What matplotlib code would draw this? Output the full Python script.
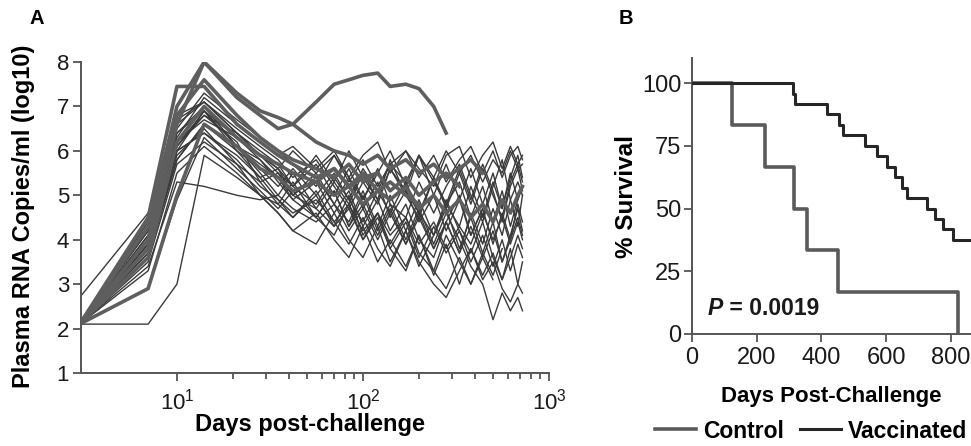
import numpy as np
import matplotlib
matplotlib.use("Agg")
import matplotlib.pyplot as plt
from matplotlib.lines import Line2D

plt.rcParams['font.family'] = ['Liberation Sans', 'DejaVu Sans']
plt.rcParams['mathtext.fontset'] = 'custom'
plt.rcParams['mathtext.rm'] = 'Liberation Sans'
plt.rcParams['mathtext.default'] = 'regular'

# ---- panel A: viral load (log10 copies/ml) per animal ----
days = [3, 7, 10, 14, 21, 28, 35, 42, 56, 70, 84, 100, 120, 140, 170, 200,
        240, 280, 330, 380, 440, 500, 560, 620, 680, 720]
nan = np.nan

vaccinated_vl = [
    [2.1, 4.2, 6.3, 7.2, 6.6, 6.2, 5.9, 6.1, 5.6, 6.0, 5.4, 5.9, 6.2, 5.5, 6.0, 5.6, 5.2, 5.9, 6.1, 5.4, 5.9, 6.2, 5.6, 6.1, 5.7, 5.9],
    [2.1, 3.9, 6.0, 6.9, 6.3, 5.8, 5.3, 4.9, 4.5, 5.1, 4.3, 4.8, 4.1, 4.7, 3.9, 4.6, 3.8, 4.4, 5.0, 4.1, 4.7, 3.9, 4.6, 4.0, 4.8, 4.4],
    [2.1, 4.0, 6.4, 7.0, 6.1, 5.5, 5.0, 5.5, 4.7, 4.3, 5.0, 4.1, 4.6, 3.9, 4.5, 3.7, 3.3, 4.1, 3.5, 3.0, 3.6, 3.1, nan, nan, nan, nan],
    [2.1, 3.6, 5.8, 6.6, 6.0, 5.4, 4.9, 4.5, 5.1, 4.4, 3.9, 4.5, 3.8, 3.4, 4.2, 3.5, 3.0, 2.7, 3.3, 3.8, 3.1, 3.5, 2.9, 2.6, 3.0, 2.8],
    [2.1, 4.3, 6.6, 7.1, 6.4, 6.0, 5.7, 5.2, 5.9, 5.3, 6.0, 5.4, 4.9, 5.8, 5.0, 5.9, 5.3, 4.8, 5.6, 4.9, 5.7, 5.1, 4.4, 5.2, 5.6, 5.1],
    [2.1, 3.8, 6.1, 6.8, 6.2, 5.3, 4.8, 5.3, 4.5, 5.1, 4.3, 5.0, 4.2, 4.8, 4.0, 4.7, 3.9, 4.6, 4.0, 3.4, 3.0, 2.2, 2.8, 2.4, 2.7, 2.4],
    [2.1, 4.1, 6.5, 7.3, 6.7, 6.3, 6.0, 5.7, 5.2, 5.9, 5.4, 4.9, 5.6, 4.8, 4.5, 5.3, 4.6, 5.2, 5.7, 5.0, 4.4, 5.2, 5.8, 4.9, 4.3, 5.0],
    [2.1, 3.7, 5.9, 6.5, 5.7, 5.0, 4.6, 4.2, 3.9, 4.6, 4.0, 3.6, 4.3, 3.5, 4.2, 3.4, 4.1, 4.7, 3.8, 4.5, 3.7, 4.4, 3.5, 4.1, 4.7, 4.2],
    [2.7, 4.6, 6.7, 7.1, 6.5, 6.1, 5.8, 5.4, 5.8, 5.2, 4.7, 5.3, 4.8, 5.6, 5.0, 4.5, 5.4, 4.7, 5.5, 4.8, 5.6, 5.0, 4.5, 5.3, 5.7, 5.3],
    [2.1, 2.1, 3.0, 5.9, 5.4, 5.0, 4.8, 4.5, 5.0, 4.3, 4.7, 4.0, 4.6, 3.8, 4.4, 3.6, 4.3, 3.7, 4.2, 3.5, 4.1, 3.4, 4.0, 3.3, 3.9, 3.6],
    [2.1, 2.9, 4.9, 6.3, 5.6, 5.1, 4.7, 5.1, 4.5, 4.1, 4.8, 4.0, 4.5, 3.8, 3.3, 4.1, 3.2, 3.9, 3.0, 3.8, 3.2, 3.7, 3.1, 3.6, 4.1, 3.8],
    [2.1, 3.4, 5.3, 5.2, 5.0, 4.9, 5.0, 4.7, 4.4, 4.8, 4.2, 4.7, 4.0, 4.6, 3.9, 4.5, 3.8, 4.4, 3.7, 4.3, 3.6, 4.2, 3.5, 4.0, 4.5, 4.1],
    [2.1, 4.0, 6.2, 6.7, 6.3, 5.9, 5.6, 6.0, 5.5, 5.9, 5.3, 5.8, 5.2, 5.7, 6.0, 5.4, 5.9, 5.3, 5.8, 6.1, 5.5, 6.0, 5.4, 5.9, 6.1, 5.8],
    [2.1, 3.9, 6.0, 6.4, 5.9, 5.4, 5.6, 5.0, 5.5, 4.8, 5.4, 4.7, 5.3, 4.5, 5.1, 4.4, 5.0, 4.2, 4.9, 4.1, 4.7, nan, nan, nan, nan, nan],
    [2.1, 4.2, 6.4, 6.9, 6.1, 5.8, 5.4, 4.9, 5.3, 4.6, 5.1, 4.3, 4.9, 4.2, 4.8, 4.0, 3.6, 4.4, 3.7, 4.6, 3.9, 4.7, 4.1, 4.9, 5.3, 5.0],
    [2.1, 3.5, 5.7, 6.2, 5.7, 5.3, 5.5, 5.0, 5.4, 4.8, 4.4, 5.1, 4.3, 5.0, 4.2, 4.9, 4.1, 4.8, 5.3, 4.5, 5.2, 4.4, 5.1, 4.3, 4.9, 5.2],
    [2.1, 4.4, 6.8, 7.1, 6.4, 5.9, 5.6, 5.2, 5.7, 5.0, 5.6, 4.9, 5.5, 6.0, 5.2, 5.9, 5.0, 5.7, 4.9, 5.6, 4.8, 5.5, 4.7, 5.4, 5.9, 5.4],
    [2.1, 3.3, 5.5, 6.1, 5.5, 5.0, 4.6, 4.2, 4.6, 4.0, 3.6, 4.3, 3.5, 4.0, 3.4, 4.1, 3.3, 2.9, 3.6, 3.0, 3.7, 3.2, 3.8, nan, nan, nan],
    [2.1, 3.7, 5.8, 6.6, 6.1, 5.7, 5.4, 5.0, 4.7, 5.3, 4.8, 5.5, 4.9, 5.6, 5.1, 4.6, 5.4, 4.8, 4.3, 5.2, 4.5, 5.3, 4.7, 5.5, 4.9, 5.2],
    [2.1, 4.1, 6.2, 6.8, 6.4, 5.9, 5.5, 5.2, 4.8, 5.4, 4.9, 4.4, 5.1, 4.6, 5.3, 4.6, 4.1, 4.9, 4.2, 3.7, 4.4, 3.6, 3.1, 3.8, 3.0, 3.5],
    [2.1, 3.9, 6.1, 6.9, 6.0, 5.6, 5.2, 5.6, 5.0, 5.5, 4.9, 5.6, 5.1, 5.7, 5.3, 5.9, 5.4, 6.0, 5.5, 5.9, 5.3, 5.8, 5.5, 6.0, 5.6, 5.7],
    [2.1, 3.6, 6.0, 6.4, 5.8, 5.2, 4.9, 4.6, 4.9, 4.4, 4.8, 4.2, 4.6, 4.1, 4.5, 3.9, 4.4, 3.8, 4.3, 3.9, 4.6, 4.0, 4.5, 3.9, 4.4, 4.0],
]

control_vl = [
    [2.1, 3.8, 6.6, 8.0, 7.2, 6.8, 6.5, 6.6, 7.1, 7.5, 7.6, 7.7, 7.75, 7.45, 7.5, 7.4, 7.0, 6.4, nan, nan, nan, nan, nan, nan, nan, nan],
    [2.1, 4.3, 7.0, 8.0, 7.3, 6.9, 6.75, 6.6, 6.2, 6.0, 5.9, 5.7, 5.9, 5.6, 5.8, 5.5, 5.7, 5.4, 5.6, 5.8, 5.5, nan, nan, nan, nan, nan],
    [2.1, 4.0, 6.8, 7.6, 6.8, 6.3, 6.0, 5.8, 5.6, 5.4, 5.7, 5.3, 5.5, 5.1, 5.4, 5.0, 5.3, 5.5, 5.2, nan, nan, nan, nan, nan, nan, nan],
    [2.1, 4.5, 7.45, 7.45, 6.6, 6.2, 5.9, 5.7, 5.4, 5.6, 5.2, 5.5, 5.1, 5.3, 5.0, 4.8, nan, nan, nan, nan, nan, nan, nan, nan, nan, nan],
    [2.1, 3.6, 6.2, 7.0, 6.3, 5.9, 5.7, 5.5, 5.3, 5.6, 5.2, 5.4, 5.5, nan, nan, nan, nan, nan, nan, nan, nan, nan, nan, nan, nan, nan],
    [2.1, 2.9, 5.0, 6.6, 6.1, 5.6, 5.4, 5.1, 5.3, 5.0, 5.2, 4.8, 5.1, 4.9, 5.2, 4.7, 5.0, 4.6, 4.9, 4.5, 4.8, 4.4, 4.9, 4.6, 5.0, 5.2],
]

# ---- panel B: Kaplan-Meier survival ----
control_days = [0, 125, 227, 314, 356, 450, 821]
control_surv = [100, 83.3, 66.7, 50.0, 33.3, 16.7, 0]
vacc_days = [0, 313, 318, 417, 455, 465, 534, 571, 601, 627, 650, 664, 726, 750, 775, 806, 880]
vacc_surv = [100, 95.8, 91.7, 87.5, 83.3, 79.2, 75.0, 70.8, 66.7, 62.5, 58.3, 54.2, 50.0, 45.8, 41.7, 37.5, 37.5]

W, H = 971, 446
fig = plt.figure(figsize=(W / 100, H / 100), dpi=100)
axA = fig.add_axes([81 / W, 1 - 373 / H, 468 / W, (373 - 62) / H])
axB = fig.add_axes([692 / W, 1 - 334 / H, 279 / W, (334 - 58) / H])

spine_col = '#555555'
for ax in (axA, axB):
    for s in ('top', 'right'):
        ax.spines[s].set_visible(False)
    for s in ('left', 'bottom'):
        ax.spines[s].set_color(spine_col)
        ax.spines[s].set_linewidth(1.4)
    ax.tick_params(which='both', direction='out', color=spine_col, width=1.3,
                   labelcolor='#1a1a1a')
    ax.tick_params(which='major', length=5.5)

# panel A
for v in vaccinated_vl:
    axA.plot(days, v, color='#3a3a3a', lw=1.0, zorder=2)
for v in control_vl:
    axA.plot(days, v, color='#5e5e5e', lw=2.6, zorder=3)

axA.set_xscale('log')
axA.set_xlim(3.05, 1000)
axA.set_ylim(1, 8)
axA.set_yticks(range(1, 9))
axA.set_xticks([10, 100, 1000])
axA.set_xticklabels(['10$^1$', '10$^2$', '10$^3$'])
axA.set_xticks([20, 30, 40, 50, 60, 70, 80, 90, 200, 300, 400, 500, 600, 700, 800, 900], minor=True)
axA.xaxis.set_minor_formatter(plt.NullFormatter())
axA.tick_params(labelsize=16)
axA.tick_params(axis='x', which='minor', length=4.5)
axA.tick_params(axis='x', which='major', pad=6)
axA.tick_params(axis='y', pad=3)
axA.set_xlabel('Days post-challenge', fontsize=17, fontweight='bold')
axA.xaxis.set_label_coords(0.49, -0.13)
axA.set_ylabel('Plasma RNA Copies/ml (log10)', fontsize=17, fontweight='bold')
axA.yaxis.set_label_coords(-0.098, 0.505)

# panel B
axB.step(control_days, control_surv, where='post', color='#5a5a5a', lw=2.6, zorder=3)
axB.step(vacc_days, vacc_surv, where='post', color='#262626', lw=2.2, zorder=4)
axB.set_xlim(0, 862)
axB.set_ylim(0, 110)
axB.set_yticks([0, 25, 50, 75, 100])
axB.set_xticks([0, 200, 400, 600, 800])
axB.tick_params(labelsize=17)
axB.tick_params(axis='x', pad=4)
axB.tick_params(axis='y', pad=2)
axB.set_xlabel('Days Post-Challenge', fontsize=16, fontweight='bold')
axB.xaxis.set_label_coords(0.5, -0.19)
axB.set_ylabel('% Survival', fontsize=17.5, fontweight='bold')
axB.yaxis.set_label_coords(-0.194, 0.5)

tP = axB.text(49, 10.3, 'P', fontsize=16.5, fontweight='bold', fontstyle='italic',
              ha='left', va='center', color='#1a1a1a')
axB.annotate(' = 0.0019', xy=(1, 0.5), xycoords=tP, fontsize=16.5, fontweight='bold',
             ha='left', va='center', color='#1a1a1a')

handles = [Line2D([], [], color='#5a5a5a', lw=2.6), Line2D([], [], color='#262626', lw=2.2)]
fig.legend(handles, ['Control', 'Vaccinated'], loc='center', bbox_to_anchor=(811 / W, 1 - 431 / H),
           ncol=2, frameon=False, handlelength=1.8, handletextpad=0.3, columnspacing=0.7,
           prop={'size': 16.5, 'weight': 'bold'}, borderaxespad=0, borderpad=0)

fig.text(37 / W, 1 - 19 / H, 'A', fontsize=14.5, fontweight='bold', ha='center', va='center')
fig.text(626 / W, 1 - 18 / H, 'B', fontsize=14.5, fontweight='bold', ha='center', va='center')

fig.savefig('out.png', dpi=100)
